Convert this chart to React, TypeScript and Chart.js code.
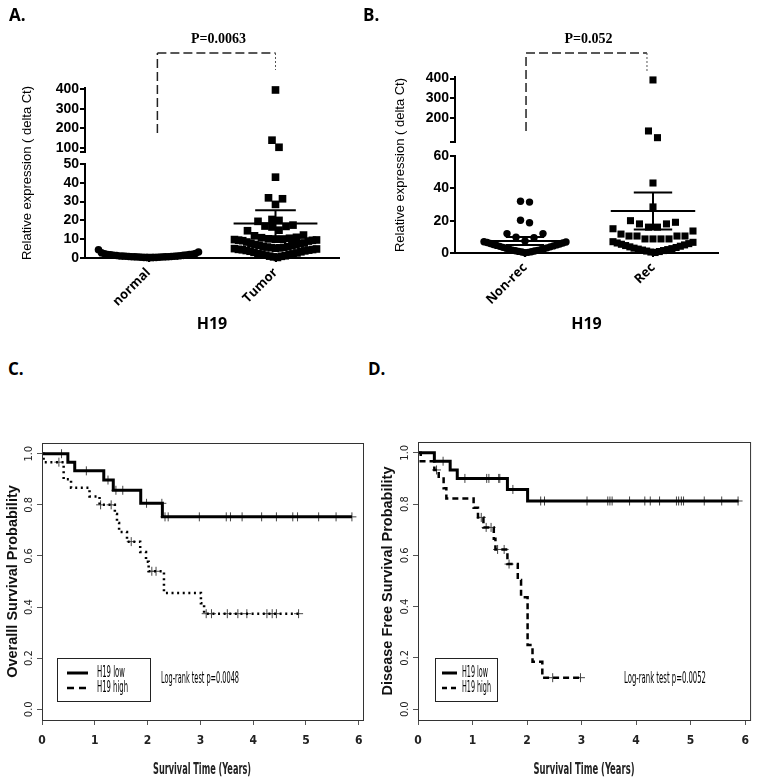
import React, { useEffect, useRef } from 'react';
import { Chart, registerables } from 'chart.js';

Chart.register(...registerables);

const SANS = "'Liberation Sans', Arial, Helvetica, sans-serif";
const NARROW = "'Liberation Sans Narrow', 'Arial Narrow', 'DejaVu Sans Condensed', 'Liberation Sans', sans-serif";
const ROUND = "'Open Sans', Lato, 'Noto Sans', sans-serif";
const SERIF = "'Liberation Serif', 'Times New Roman', serif";

// ================= Panel A: normal vs Tumor =================
const categoriesA = ['normal', 'Tumor'];
const normalValuesA = [0.1, 0.2, 0.2, 0.3, 0.3, 0.4, 0.4, 0.5, 0.5, 0.6, 0.6, 0.7, 0.7, 0.8, 0.8, 0.9, 0.9, 1.0, 1.0, 1.1, 1.2, 1.3, 1.4, 1.5, 1.6, 1.7, 1.8, 1.9, 2.0, 2.2, 2.4, 2.8, 3.2, 4.4];
const tumorValuesA = [395, 140, 104, 43, 32, 31.5, 28.5, 20.5, 20, 19.5, 17.5, 17, 16.8, 16.5, 14.8, 14.5, 12.2, 11.8, 11, 10.8, 10.5, 10.2, 10, 10, 9.8, 9.6, 9.5, 9.4, 9.2, 9, 8.5, 8, 7.8, 7.6, 7.2, 7, 6.8, 6.5, 6.2, 6, 5.8, 5.6, 5.5, 5.4, 5.2, 5, 4.8, 4.6, 4.5, 4.4, 4.2, 4, 3.8, 3.6, 3.3, 3, 2.7, 2.4, 2.2, 2.1, 1.8, 1.5, 1.2, 1.0, 0.9, 0.6, 0.3];
const meansA = [1.5, 18.4];
const semsA = [0.25, 7.0];
const yTickValuesA = [0, 10, 20, 30, 40, 50, 100, 200, 300, 400];
const pLabelA = 'P=0.0063';

// ================= Panel B: Non-rec vs Rec =================
const categoriesB = ['Non-rec', 'Rec'];
const nonRecValuesB = [32, 31.5, 20.3, 18.7, 12, 12, 9.7, 9.5, 7.5, 7.0, 6.8, 6.5, 6.2, 5.9, 5.6, 5.3, 5.0, 4.7, 4.4, 4.1, 3.8, 3.5, 3.2, 2.9, 2.6, 2.3, 2.0, 1.8, 1.6, 1.4, 1.2, 1.0, 0.8, 0.6, 0.4, 0.2];
const recValuesB = [393, 134, 100, 43.3, 28.5, 20, 19, 18, 18, 16, 16, 15, 13.6, 11.7, 10.5, 10.5, 10.5, 10.5, 8.7, 8.7, 8.7, 8.7, 7.0, 6.6, 6.2, 5.8, 5.4, 5.0, 4.6, 4.2, 3.8, 3.4, 3.0, 2.7, 2.4, 2.1, 1.8, 1.5, 1.2, 0.9, 0.6, 0.3];
const meansB = [7.4, 26];
const semsB = [2.5, 11.5];
const yTickValuesB = [0, 20, 40, 60, 200, 300, 400];
const pLabelB = 'P=0.052';

const groupTitle = 'H19';
const yTitleExpr = 'Relative expression ( delta Ct)';

// ================= Panel C: Overall survival =================
const lowTimesC = [0, 0.49, 0.62, 1.17, 1.35, 1.87, 2.28, 5.87];
const lowSurvC = [1, 0.967, 0.933, 0.897, 0.857, 0.806, 0.753, 0.753];
const lowCensorC = [0.37, 0.84, 1.25, 1.4, 1.53, 1.98, 2.27, 2.33, 2.39, 2.98, 3.49, 3.57, 3.79, 4.16, 4.44, 4.75, 4.84, 5.24, 5.57, 5.87];
const highTimesC = [0, 0.03, 0.41, 0.55, 0.9, 1.09, 1.38, 1.42, 1.46, 1.61, 1.86, 1.97, 2.02, 2.31, 3.01, 3.07, 4.86];
const highSurvC = [1, 0.967, 0.9, 0.867, 0.833, 0.8, 0.764, 0.729, 0.694, 0.656, 0.615, 0.577, 0.54, 0.455, 0.415, 0.374, 0.374];
const highCensorC = [0.32, 1.11, 1.31, 1.69, 2.08, 2.16, 3.11, 3.21, 3.51, 3.71, 3.88, 4.26, 4.36, 4.44, 4.86];
const yTitleC = 'Overalll Survival Probability';
const logRankC = 'Log-rank test p=0.0048';

// ================= Panel D: Disease free survival =================
const lowTimesD = [0, 0.3, 0.59, 0.72, 1.64, 2.01, 5.88];
const lowSurvD = [1, 0.967, 0.933, 0.9, 0.857, 0.812, 0.812];
const lowCensorD = [0.46, 0.86, 1.26, 1.3, 1.48, 1.5, 1.74, 2.25, 2.32, 3.1, 3.48, 3.52, 3.56, 3.88, 4.16, 4.26, 4.43, 4.74, 4.78, 4.83, 4.87, 5.25, 5.57, 5.87];
const highTimesD = [0, 0.05, 0.3, 0.38, 0.47, 0.52, 1.02, 1.1, 1.2, 1.39, 1.42, 1.64, 1.83, 1.89, 2.01, 2.1, 2.28, 2.98];
const highSurvD = [1, 0.967, 0.933, 0.9, 0.862, 0.822, 0.786, 0.748, 0.709, 0.665, 0.623, 0.566, 0.504, 0.437, 0.25, 0.185, 0.123, 0.123];
const highCensorD = [0.34, 1.16, 1.25, 1.34, 1.46, 1.58, 1.67, 2.47, 2.98];
const yTitleD = 'Disease Free Survival Probability';
const logRankD = 'Log-rank test p=0.0052';

const legendLabels = ['H19 low', 'H19 high'];
const kmXTicks = [0, 1, 2, 3, 4, 5, 6];
const kmYTicks = [0, 0.2, 0.4, 0.6, 0.8, 1.0];
const kmXTitle = 'Survival Time (Years)';

// ================= helpers =================
type Broken = { lowerMax: number; upperMin: number; upperMax: number; lowerPx: number; gapPx: number; upperPx: number };

function brokenTransform(b: Broken) {
  return (v: number) =>
    v <= b.lowerMax
      ? (v / b.lowerMax) * b.lowerPx
      : b.lowerPx + b.gapPx + ((v - b.upperMin) / (b.upperMax - b.upperMin)) * b.upperPx;
}

function swarm(values: number[], cat: number, toPx: (v: number) => number, bandPx: number, spacingPx: number, maxHalfPx: number, pxPerX: number) {
  const sorted = [...values].sort((a, b) => a - b);
  const out: { x: number; y: number }[] = [];
  let i = 0;
  while (i < sorted.length) {
    const start = toPx(sorted[i]);
    let j = i;
    while (j < sorted.length && toPx(sorted[j]) - start < bandPx) j++;
    const band = sorted.slice(i, j);
    const n = band.length;
    const s = n > 1 ? Math.min(spacingPx, (2 * maxHalfPx) / (n - 1)) : 0;
    const slots = band.map((_, k) => (k - (n - 1) / 2) * s);
    slots.sort((a, b) => Math.abs(a) - Math.abs(b) || b - a);
    band.forEach((v, k) => out.push({ x: cat + slots[k] / pxPerX, y: toPx(v) }));
    i = j;
  }
  return out;
}

function survAt(times: number[], surv: number[], t: number) {
  let s = surv[0];
  for (let i = 0; i < times.length; i++) if (times[i] <= t) s = surv[i];
  return s;
}

function seg(ctx: CanvasRenderingContext2D, x1: number, y1: number, x2: number, y2: number) {
  ctx.beginPath();
  ctx.moveTo(x1, y1);
  ctx.lineTo(x2, y2);
  ctx.stroke();
}

function fitText(ctx: CanvasRenderingContext2D, text: string, x: number, y: number, font: string, width: number, align: 'left' | 'center' = 'left') {
  ctx.save();
  ctx.font = font;
  const w = ctx.measureText(text).width;
  ctx.translate(x, y);
  ctx.scale(width / w, 1);
  ctx.textAlign = align;
  ctx.textBaseline = 'middle';
  ctx.fillText(text, 0, 0);
  ctx.restore();
}

// ================= dot plot (A, B) =================
function dotChart(canvas: HTMLCanvasElement, P: any) {
  const t = brokenTransform(P.broken);
  const total = P.broken.lowerPx + P.broken.gapPx + P.broken.upperPx;
  const datasets = P.groups.map((vals: number[], i: number) => ({
    label: P.cats[i],
    data: swarm(vals, i, t, P.bandPx, P.spacingPx, P.maxHalfPx[i], P.pxPerX),
    pointStyle: P.pointStyles[i],
    pointRadius: P.pointRadii[i],
    pointBackgroundColor: '#000',
    pointBorderWidth: 0,
    showLine: false,
    clip: false,
  }));

  const decor = {
    id: 'dotDecor',
    afterDatasetsDraw(chart: any) {
      const { ctx, chartArea: ca, scales } = chart;
      const x = scales.x;
      const y = scales.y;
      ctx.save();
      ctx.strokeStyle = '#000';
      ctx.lineWidth = 2;
      P.means.forEach((m: number, i: number) => {
        const yM = y.getPixelForValue(t(m));
        seg(ctx, x.getPixelForValue(i - P.meanHalf[i]), yM, x.getPixelForValue(i + P.meanHalf[i]), yM);
        const yHi = y.getPixelForValue(t(m + P.sems[i]));
        const yLo = y.getPixelForValue(t(Math.max(0, m - P.sems[i])));
        const xc = x.getPixelForValue(i);
        seg(ctx, xc, yLo, xc, yHi);
        seg(ctx, x.getPixelForValue(i - P.capHalf), yHi, x.getPixelForValue(i + P.capHalf), yHi);
        seg(ctx, x.getPixelForValue(i - P.capHalf), yLo, x.getPixelForValue(i + P.capHalf), yLo);
      });
      const x0 = ca.left;
      seg(ctx, x0, y.getPixelForValue(0) + 1, x0, y.getPixelForValue(P.broken.lowerPx) - 1);
      const yBreak = y.getPixelForValue(P.broken.lowerPx + P.broken.gapPx);
      seg(ctx, x0, yBreak + 1, x0, y.getPixelForValue(total) - 1);
      seg(ctx, x0 - 5, yBreak, x0, yBreak);
      const B = P.bracket;
      const bx1 = x.getPixelForValue(B.x1);
      const bx2 = x.getPixelForValue(B.x2);
      ctx.strokeStyle = '#222';
      ctx.lineWidth = 1.5;
      ctx.setLineDash([9, 4]);
      seg(ctx, bx1, B.leg1, bx1, B.top);
      seg(ctx, bx1, B.top, bx2, B.top);
      ctx.setLineDash([2, 2]);
      ctx.lineWidth = 1;
      ctx.strokeStyle = '#555';
      seg(ctx, bx2, B.top, bx2, B.leg2);
      ctx.setLineDash([]);
      ctx.fillStyle = '#000';
      ctx.font = `bold 14px ${SERIF}`;
      ctx.textAlign = 'center';
      ctx.textBaseline = 'alphabetic';
      ctx.fillText(B.text, (bx1 + bx2) / 2 + 2, B.textY);
      ctx.restore();
    },
  };

  return new Chart(canvas, {
    type: 'scatter',
    data: { datasets },
    options: {
      responsive: false,
      maintainAspectRatio: false,
      animation: false,
      events: [],
      layout: { padding: P.padding },
      plugins: { legend: { display: false }, tooltip: { enabled: false } },
      scales: {
        x: {
          type: 'linear',
          min: P.xMin,
          max: P.xMax,
          afterBuildTicks: (s: any) => {
            s.ticks = P.cats.map((_: string, i: number) => ({ value: i }));
          },
          afterFit: (s: any) => {
            s.height = P.xHeight;
          },
          ticks: {
            callback: (_v: any, i: number) => P.cats[i],
            minRotation: 45,
            maxRotation: 45,
            autoSkip: false,
            padding: 3,
            color: '#000',
            font: { family: ROUND, size: 13, weight: 'bold' },
          },
          grid: { drawOnChartArea: false, drawTicks: true, tickLength: 4, lineWidth: 2, color: '#000' },
          border: { display: true, width: 2, color: '#000' },
          title: { display: true, text: groupTitle, color: '#000', padding: 0, font: { family: ROUND, size: 16, weight: 'bold' } },
        },
        y: {
          type: 'linear',
          min: 0,
          max: total,
          afterBuildTicks: (s: any) => {
            s.ticks = P.yTicks.map((v: number) => ({ value: t(v) }));
          },
          afterFit: (s: any) => {
            s.width = P.yWidth;
          },
          ticks: {
            callback: (_v: any, i: number) => String(P.yTicks[i]),
            autoSkip: false,
            padding: 1,
            color: '#000',
            font: { family: SANS, size: 14, weight: 'bold' },
          },
          grid: { drawOnChartArea: false, drawTicks: true, tickLength: 5, lineWidth: 2, color: '#000' },
          border: { display: false },
          title: { display: true, text: yTitleExpr, color: '#000', padding: 0, font: { family: SANS, size: 13 } },
        },
      },
    } as any,
    plugins: [decor],
  } as any);
}

// ================= Kaplan-Meier (C, D) =================
function kmChart(canvas: HTMLCanvasElement, K: any) {
  const stepLine = (times: number[], surv: number[], dash: number[], width: number) => ({
    data: times.map((tt, i) => ({ x: tt, y: surv[i] })),
    showLine: true,
    stepped: true,
    borderColor: '#000',
    borderWidth: width,
    borderDash: dash,
    borderCapStyle: 'butt',
    pointRadius: 0,
    fill: false,
    clip: false,
  });
  const marks = (cens: number[], times: number[], surv: number[]) => ({
    data: cens.map((tt) => ({ x: tt, y: survAt(times, surv, tt) })),
    showLine: false,
    pointStyle: 'cross',
    pointRadius: 4.5,
    pointBorderWidth: 1,
    pointBorderColor: '#444',
    pointBackgroundColor: '#444',
    clip: false,
  });
  const datasets = [
    stepLine(K.low.t, K.low.s, [], 3),
    stepLine(K.high.t, K.high.s, K.dash, 2.5),
    marks(K.low.c, K.low.t, K.low.s),
    marks(K.high.c, K.high.t, K.high.s),
  ];

  const decor = {
    id: 'kmDecor',
    afterDatasetsDraw(chart: any) {
      const { ctx, chartArea: ca, height } = chart;
      ctx.save();
      ctx.strokeStyle = '#333';
      ctx.lineWidth = 1;
      ctx.strokeRect(ca.left + 0.5, ca.top + 0.5, ca.right - ca.left, ca.bottom - ca.top);
      const L = K.legend;
      const bx = ca.left + L.dx;
      const by = ca.bottom - L.dyTop;
      ctx.fillStyle = '#fff';
      ctx.fillRect(bx, by, L.w, L.h);
      ctx.strokeStyle = '#222';
      ctx.strokeRect(bx + 0.5, by + 0.5, L.w, L.h);
      ctx.strokeStyle = '#000';
      ctx.lineWidth = 3;
      seg(ctx, bx + L.x1, by + L.row1, bx + L.x2, by + L.row1);
      ctx.lineWidth = 2.5;
      ctx.setLineDash(L.dash);
      seg(ctx, bx + L.x1, by + L.row2, bx + L.x2, by + L.row2);
      ctx.setLineDash([]);
      ctx.fillStyle = '#000';
      const f = `15px ${NARROW}`;
      fitText(ctx, legendLabels[0], bx + L.tx, by + L.row1, f, L.textW[0]);
      fitText(ctx, legendLabels[1], bx + L.tx, by + L.row2, f, L.textW[1]);
      fitText(ctx, K.note, ca.left + K.noteDx, ca.bottom - K.noteDy, f, K.noteW);
      ctx.fillStyle = '#222';
      fitText(ctx, kmXTitle, ca.left + K.xTitleDx, height - K.xTitleDy, `bold 16px ${NARROW}`, K.xTitleW, 'center');
      ctx.restore();
    },
  };

  return new Chart(canvas, {
    type: 'scatter',
    data: { datasets },
    options: {
      responsive: false,
      maintainAspectRatio: false,
      animation: false,
      events: [],
      layout: { padding: K.padding },
      plugins: { legend: { display: false }, tooltip: { enabled: false } },
      scales: {
        x: {
          type: 'linear',
          min: 0,
          max: K.xMax,
          afterBuildTicks: (s: any) => {
            s.ticks = kmXTicks.map((v) => ({ value: v }));
          },
          afterFit: (s: any) => {
            s.height = K.xHeight;
          },
          ticks: {
            callback: (_v: any, i: number) => String(kmXTicks[i]),
            autoSkip: false,
            maxRotation: 0,
            padding: 9,
            color: '#222',
            font: { family: NARROW, size: 12, weight: 'bold' },
          },
          grid: { drawOnChartArea: false, drawTicks: true, tickLength: 5, lineWidth: 1, color: '#555' },
          border: { display: false },
          title: { display: false },
        },
        y: {
          type: 'linear',
          min: -0.042,
          max: 1.042,
          afterBuildTicks: (s: any) => {
            s.ticks = kmYTicks.map((v) => ({ value: v }));
          },
          afterFit: (s: any) => {
            s.width = K.yWidth;
          },
          ticks: {
            callback: (_v: any, i: number) => kmYTicks[i].toFixed(1),
            autoSkip: false,
            minRotation: 90,
            maxRotation: 90,
            crossAlign: 'center',
            padding: 0,
            color: '#222',
            font: { family: NARROW, size: 11 },
          },
          grid: { drawOnChartArea: false, drawTicks: true, tickLength: 5, lineWidth: 1, color: '#555' },
          border: { display: false },
          title: { display: true, text: K.yTitle, color: '#111', padding: 0, font: { family: SANS, size: 14.5, weight: 'bold' } },
        },
      },
    } as any,
    plugins: [decor],
  } as any);
}

const labelStyle = (left: number, top: number): React.CSSProperties => ({
  position: 'absolute',
  left,
  top,
  font: `bold 17px ${ROUND}`,
  lineHeight: '17px',
  color: '#000',
  margin: 0,
});

export default function App() {
  const refA = useRef<HTMLCanvasElement>(null);
  const refB = useRef<HTMLCanvasElement>(null);
  const refC = useRef<HTMLCanvasElement>(null);
  const refD = useRef<HTMLCanvasElement>(null);

  useEffect(() => {
    const charts: Chart[] = [];
    charts.push(
      dotChart(refA.current!, {
        cats: categoriesA,
        groups: [normalValuesA, tumorValuesA],
        means: meansA,
        sems: semsA,
        yTicks: yTickValuesA,
        broken: { lowerMax: 50, upperMin: 80, upperMax: 405, lowerPx: 94, gapPx: 12, upperPx: 64 },
        xMin: -0.5,
        xMax: 1.5,
        pxPerX: 127,
        bandPx: 9,
        spacingPx: 7,
        maxHalfPx: [50, 41],
        pointStyles: ['circle', 'rect'],
        pointRadii: [3.8, 5.4],
        meanHalf: [0.39, 0.33],
        capHalf: 0.16,
        padding: { left: 20, top: 88, right: 40, bottom: 6 },
        yWidth: 65,
        xHeight: 76,
        bracket: { x1: 0.07, x2: 1.0, top: 53, leg1: 133, leg2: 70, text: pLabelA, textY: 43 },
      })
    );
    charts.push(
      dotChart(refB.current!, {
        cats: categoriesB,
        groups: [nonRecValuesB, recValuesB],
        means: meansB,
        sems: semsB,
        yTicks: yTickValuesB,
        broken: { lowerMax: 60, upperMin: 78, upperMax: 408, lowerPx: 97, gapPx: 14, upperPx: 65 },
        xMin: -0.547,
        xMax: 1.508,
        pxPerX: 128,
        bandPx: 11,
        spacingPx: 9,
        maxHalfPx: [41, 40],
        pointStyles: ['circle', 'rect'],
        pointRadii: [3.7, 5.0],
        meanHalf: [0.33, 0.33],
        capHalf: 0.15,
        padding: { left: 14, top: 77, right: 40, bottom: 6 },
        yWidth: 62,
        xHeight: 81,
        bracket: { x1: 0.008, x2: 0.953, top: 53, leg1: 131, leg2: 73, text: pLabelB, textY: 43 },
      })
    );
    charts.push(
      kmChart(refC.current!, {
        low: { t: lowTimesC, s: lowSurvC, c: lowCensorC },
        high: { t: highTimesC, s: highSurvC, c: highCensorC },
        dash: [2, 3.6],
        xMax: 6.08,
        yTitle: yTitleC,
        note: logRankC,
        noteDx: 119,
        noteDy: 41,
        noteW: 78,
        xTitleDx: 160,
        xTitleDy: 10,
        xTitleW: 98,
        padding: { left: 4, top: 63, right: 16, bottom: 2 },
        yWidth: 38,
        xHeight: 58,
        legend: { dx: 15, dyTop: 62, w: 93, h: 43, x1: 10, x2: 31, tx: 40, row1: 15, row2: 30, textW: [28, 31], dash: [7, 5] },
      })
    );
    charts.push(
      kmChart(refD.current!, {
        low: { t: lowTimesD, s: lowSurvD, c: lowCensorD },
        high: { t: highTimesD, s: highSurvD, c: highCensorD },
        dash: [6, 4],
        xMax: 6.09,
        yTitle: yTitleD,
        note: logRankD,
        noteDx: 206,
        noteDy: 41,
        noteW: 82,
        xTitleDx: 166,
        xTitleDy: 10,
        xTitleW: 101,
        padding: { left: 0, top: 62, right: 6, bottom: 2 },
        yWidth: 39,
        xHeight: 58,
        legend: { dx: 17, dyTop: 62, w: 62, h: 43, x1: 7, x2: 22, tx: 27, row1: 15, row2: 30, textW: [26, 29], dash: [5, 4] },
      })
    );
    return () => charts.forEach((c) => c.destroy());
  }, []);

  const cv = (left: number, top: number, w: number, h: number): React.CSSProperties => ({
    position: 'absolute',
    left,
    top,
    width: w,
    height: h,
  });

  return (
    <div style={{ position: 'absolute', left: 0, top: 0, width: 758, height: 780, background: '#fff', overflow: 'hidden' }}>
      <canvas ref={refA} width={379} height={340} style={cv(0, 0, 379, 340)} />
      <canvas ref={refB} width={379} height={340} style={cv(379, 0, 379, 340)} />
      <canvas ref={refC} width={379} height={400} style={cv(0, 380, 379, 400)} />
      <canvas ref={refD} width={379} height={400} style={cv(379, 380, 379, 400)} />
      <div style={labelStyle(9, 6)}>A.</div>
      <div style={labelStyle(363, 6)}>B.</div>
      <div style={labelStyle(8, 360)}>C.</div>
      <div style={labelStyle(368, 360)}>D.</div>
    </div>
  );
}
